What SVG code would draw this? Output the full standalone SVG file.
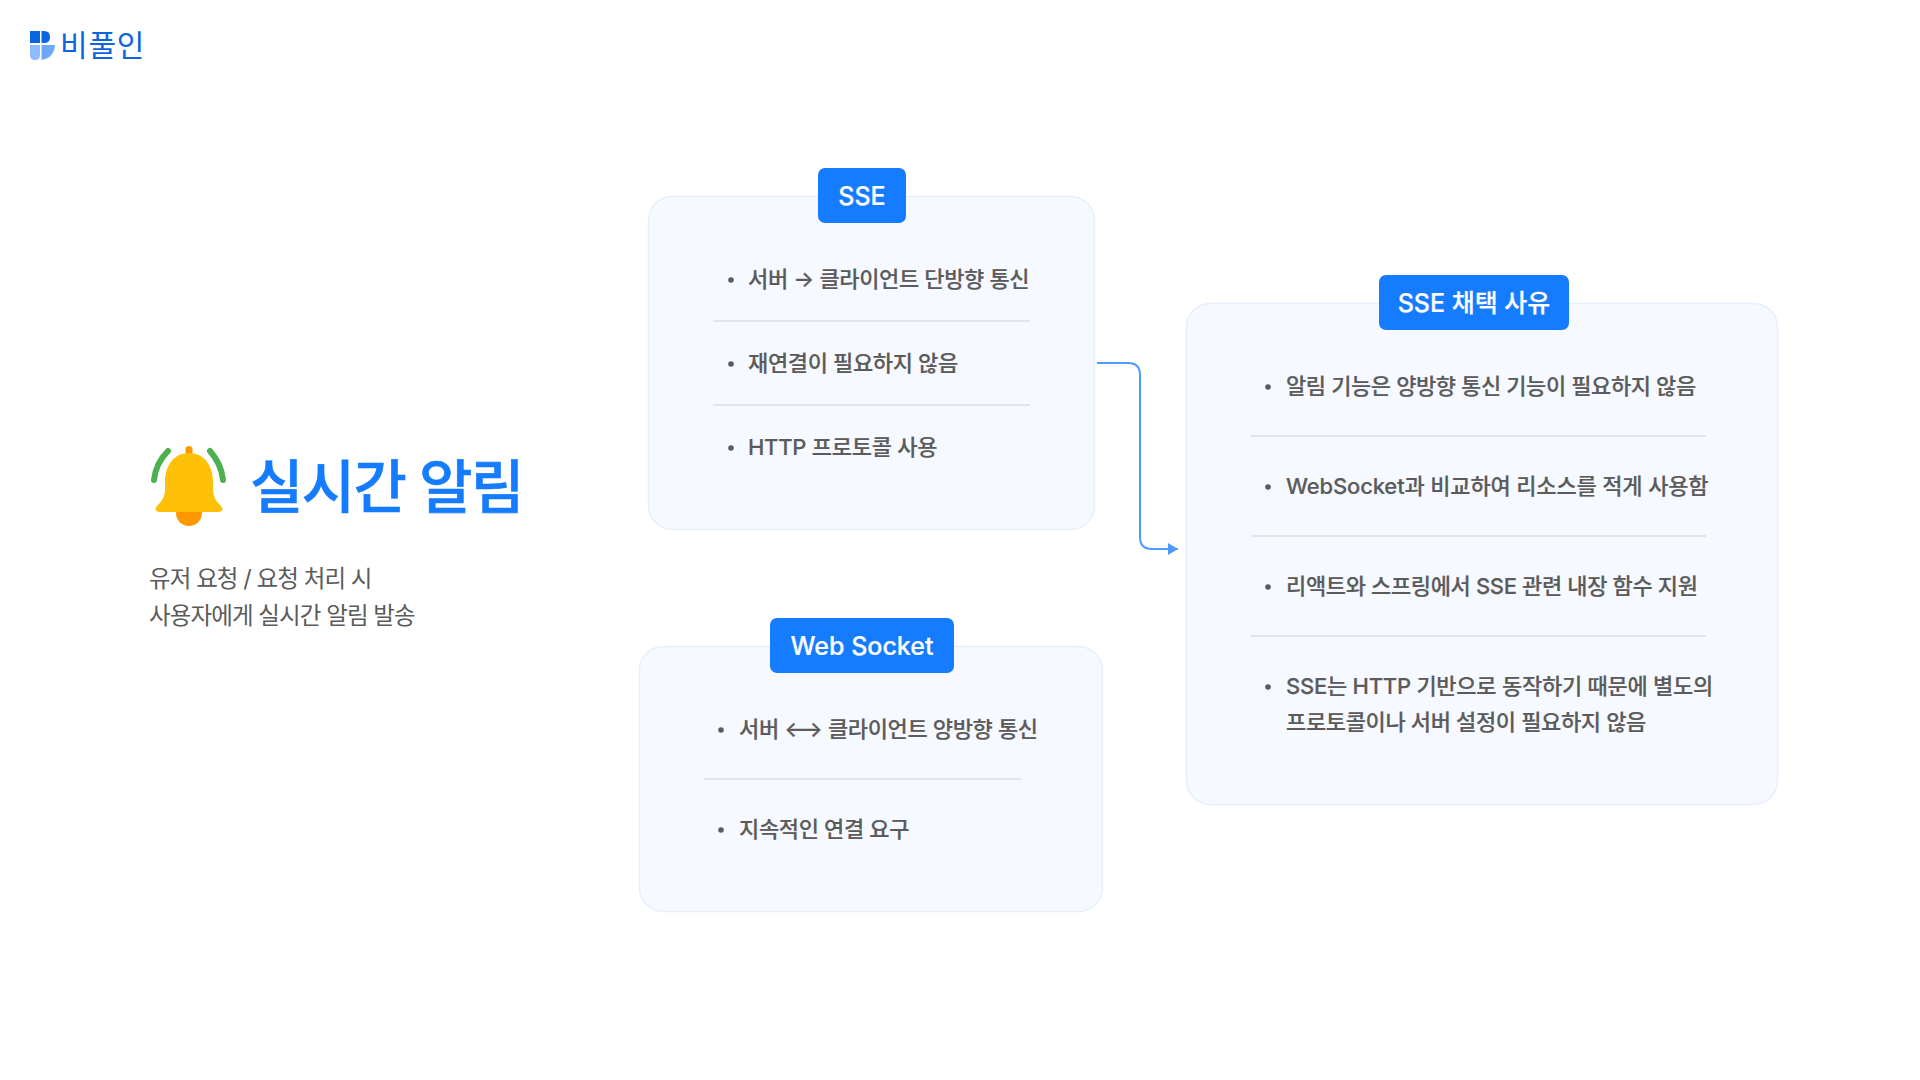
<svg xmlns="http://www.w3.org/2000/svg" width="1920" height="1080" viewBox="0 0 1920 1080">
<defs>
<style>
text{font-family:"Inter","Noto Sans CJK KR","Noto Sans",sans-serif}
.card{fill:#f6f9ff;stroke:#e6effc;stroke-width:1.5}
.head{fill:#157bff}
.ht{fill:#fff;font-size:25px;font-weight:500;text-anchor:middle;stroke:#fff;stroke-width:.2}
.li{fill:#5b5b5b;font-size:22px;font-weight:500;letter-spacing:-.36px;stroke:#5b5b5b;stroke-width:.2}
.sub{fill:#5b5b5b;font-size:23.500px;font-weight:400;letter-spacing:-.9px}
.dot{fill:#5b5b5b}
.div{stroke:#e3e5ea;stroke-width:2}
.conn{fill:none;stroke:#4d9aff;stroke-width:2}
</style>
<marker id="ah" markerUnits="userSpaceOnUse" markerWidth="10" markerHeight="12" refX="10" refY="6" orient="auto"><path d="M0 0L10 6L0 12Z" fill="#4d9aff"/></marker>
</defs>
<rect width="1920" height="1080" fill="#fff"/>
<g id="logo">
<path d="M30 31H40V43H30Z" fill="#0b64e0"/>
<path d="M41.500 31H44Q50 31 50 37Q50 43 44 43H41.500Z" fill="#0b64e0"/>
<path d="M30 45H40V55Q40 60 35 60Q30 60 30 55Z" fill="#8fbcff"/>
<path d="M41.500 45H55Q54 58 41.500 60Z" fill="#6ea8fb"/>
<text x="60" y="56" font-size="30" fill="#0b64e0" font-weight="400" letter-spacing=".8">비풀인</text>
</g>
<g id="title">
<path d="M154 480C155 470 160 459 168 451" fill="none" stroke="#4caf50" stroke-width="6" stroke-linecap="round"/>
<path d="M223 480C222 470 217 459 210 451" fill="none" stroke="#4caf50" stroke-width="6" stroke-linecap="round"/>
<circle cx="189" cy="513" r="13" fill="#ff9800"/>
<rect x="185.500" y="446" width="7" height="14" rx="3.500" fill="#ff9800"/>
<path d="M189 453C172 453 165 468 165 482V490C165 498 160 503 157 506C154 510 156 512 160 512H218C222 512 224 510 221 506C218 503 213 498 213 490V482C213 468 206 453 189 453Z" fill="#ffc107"/>
<text x="250" y="508" font-size="58" font-weight="500" fill="#157bff" letter-spacing="-1.600" stroke="#157bff" stroke-width=".6">실시간 알림</text>
<text class="sub" x="149" y="587">유저 요청 / 요청 처리 시</text>
<text class="sub" x="149" y="624">사용자에게 실시간 알림 발송</text>
</g>
<g id="connectors">
<path class="conn" marker-end="url(#ah)" d="M1097 363H1128Q1140 363 1140 375V537Q1140 549 1152 549H1178"/>
</g>
<g id="sse">
<rect class="card" x="648.500" y="196.500" width="446" height="333" rx="24"/>
<rect class="head" x="818" y="168" width="88" height="55" rx="7"/>
<text class="ht" x="862" y="205">SSE</text>
<circle class="dot" cx="731" cy="280" r="2.800"/>
<text class="li" x="748" y="287">서버 → 클라이언트 단방향 통신</text>
<line class="div" x1="713" x2="1030" y1="321" y2="321"/>
<circle class="dot" cx="731" cy="364" r="2.800"/>
<text class="li" x="748" y="371">재연결이 필요하지 않음</text>
<line class="div" x1="713" x2="1030" y1="405" y2="405"/>
<circle class="dot" cx="731" cy="448" r="2.800"/>
<text class="li" x="748" y="455" style="letter-spacing:-.26px">HTTP 프로토콜 사용</text>
</g>
<g id="websocket">
<rect class="card" x="639.500" y="646.500" width="463" height="265" rx="24"/>
<rect class="head" x="770" y="618" width="184" height="55" rx="7"/>
<text class="ht" x="862" y="655">Web Socket</text>
<circle class="dot" cx="721" cy="730" r="2.800"/>
<text class="li" x="739" y="737">서버 ⟷ 클라이언트 양방향 통신</text>
<line class="div" x1="704" x2="1021" y1="779" y2="779"/>
<circle class="dot" cx="721" cy="830" r="2.800"/>
<text class="li" x="739" y="837">지속적인 연결 요구</text>
</g>
<g id="reason">
<rect class="card" x="1186.500" y="303.500" width="591" height="501" rx="24"/>
<rect class="head" x="1379" y="275" width="190" height="55" rx="7"/>
<text class="ht" x="1474" y="312">SSE 채택 사유</text>
<circle class="dot" cx="1268" cy="387" r="2.800"/>
<text class="li" x="1286" y="394" style="letter-spacing:-.4px">알림 기능은 양방향 통신 기능이 필요하지 않음</text>
<line class="div" x1="1251" x2="1706" y1="436" y2="436"/>
<circle class="dot" cx="1268" cy="487" r="2.800"/>
<text class="li" x="1286" y="494" style="letter-spacing:-.16px">WebSocket과 비교하여 리소스를 적게 사용함</text>
<line class="div" x1="1251" x2="1706" y1="536" y2="536"/>
<circle class="dot" cx="1268" cy="587" r="2.800"/>
<text class="li" x="1286" y="594">리액트와 스프링에서 SSE 관련 내장 함수 지원</text>
<line class="div" x1="1251" x2="1706" y1="636" y2="636"/>
<circle class="dot" cx="1268" cy="687" r="2.800"/>
<text class="li" x="1286" y="694" style="letter-spacing:-.25px">SSE는 HTTP 기반으로 동작하기 때문에 별도의</text>
<text class="li" x="1286" y="730">프로토콜이나 서버 설정이 필요하지 않음</text>
</g>
</svg>
